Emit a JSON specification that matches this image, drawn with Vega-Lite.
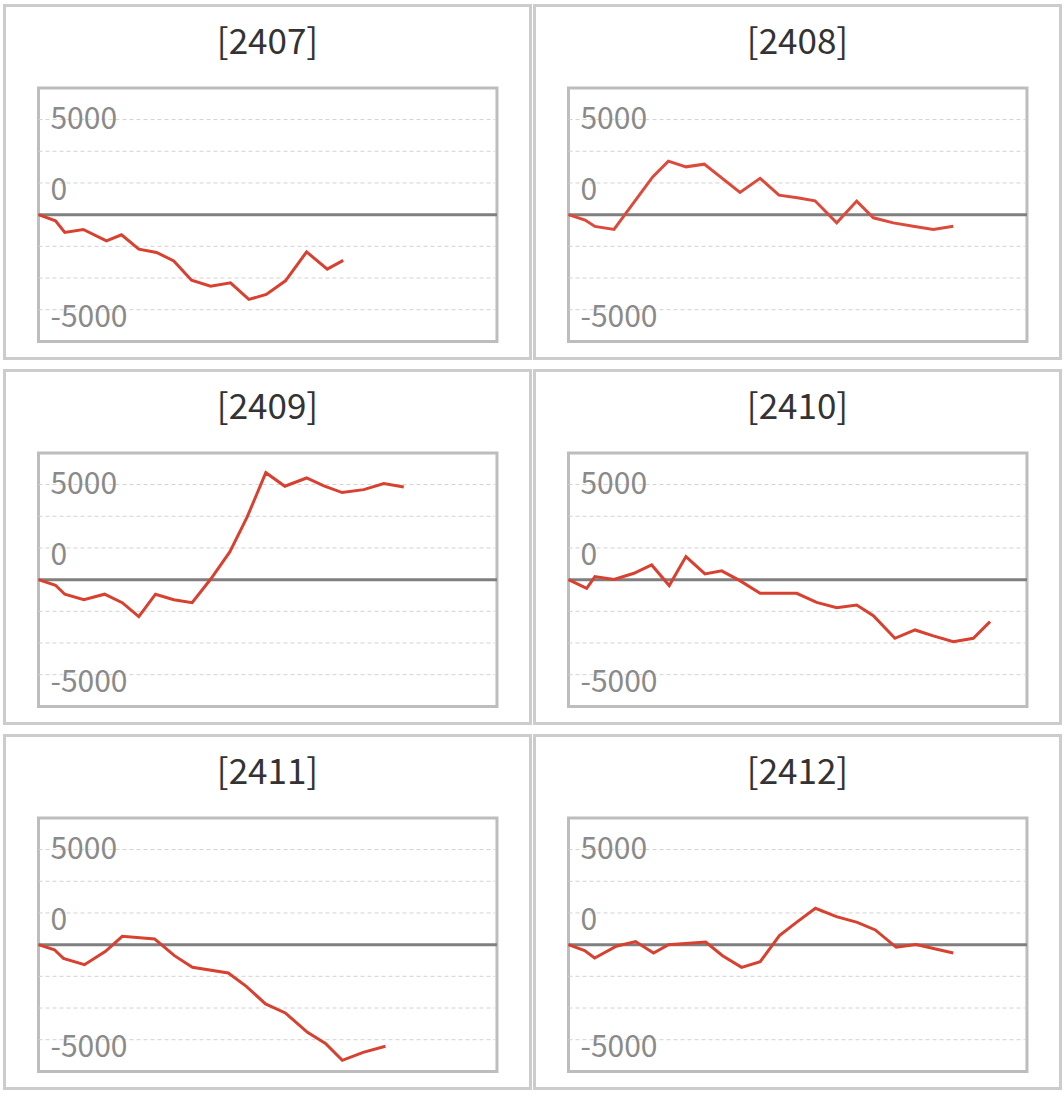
{
  "$schema": "https://vega.github.io/schema/vega-lite/v6.json",
  "padding": {"left": 2.5, "top": 3.5, "right": 2, "bottom": 2},
  "autosize": {"type": "pad"},
  "bounds": "flush",
  "columns": 2,
  "spacing": {"row": 12, "column": 4},
  "datasets": {
    "pnl": [
      {"p": "2407", "x": 0, "y": 0}, {"p": "2407", "x": 1.15, "y": -490}, {"p": "2407", "x": 1.78, "y": -1400}, {"p": "2407", "x": 3.03, "y": -1170},
      {"p": "2407", "x": 4.6, "y": -2070}, {"p": "2407", "x": 5.62, "y": -1590}, {"p": "2407", "x": 6.79, "y": -2720}, {"p": "2407", "x": 7.99, "y": -2980},
      {"p": "2407", "x": 9.16, "y": -3650}, {"p": "2407", "x": 10.36, "y": -5170}, {"p": "2407", "x": 11.65, "y": -5640}, {"p": "2407", "x": 13.0, "y": -5380},
      {"p": "2407", "x": 14.24, "y": -6690}, {"p": "2407", "x": 15.42, "y": -6300}, {"p": "2407", "x": 16.72, "y": -5220}, {"p": "2407", "x": 18.15, "y": -2940},
      {"p": "2407", "x": 19.55, "y": -4300}, {"p": "2407", "x": 20.63, "y": -3610},
      {"p": "2408", "x": 0, "y": 0}, {"p": "2408", "x": 1.12, "y": -430}, {"p": "2408", "x": 1.79, "y": -930}, {"p": "2408", "x": 3.08, "y": -1170},
      {"p": "2408", "x": 5.7, "y": 2980}, {"p": "2408", "x": 6.76, "y": 4220}, {"p": "2408", "x": 7.96, "y": 3770}, {"p": "2408", "x": 9.19, "y": 3980},
      {"p": "2408", "x": 11.61, "y": 1750}, {"p": "2408", "x": 12.97, "y": 2860}, {"p": "2408", "x": 14.25, "y": 1540}, {"p": "2408", "x": 15.49, "y": 1330},
      {"p": "2408", "x": 16.69, "y": 1090}, {"p": "2408", "x": 18.16, "y": -650}, {"p": "2408", "x": 19.51, "y": 1070}, {"p": "2408", "x": 20.64, "y": -250},
      {"p": "2408", "x": 21.99, "y": -650}, {"p": "2408", "x": 23.34, "y": -910}, {"p": "2408", "x": 24.7, "y": -1170}, {"p": "2408", "x": 26.05, "y": -910},
      {"p": "2409", "x": 0, "y": 0}, {"p": "2409", "x": 1.15, "y": -440}, {"p": "2409", "x": 1.78, "y": -1150}, {"p": "2409", "x": 3.07, "y": -1580},
      {"p": "2409", "x": 4.47, "y": -1150}, {"p": "2409", "x": 5.67, "y": -1820}, {"p": "2409", "x": 6.79, "y": -2920}, {"p": "2409", "x": 7.92, "y": -1150},
      {"p": "2409", "x": 9.16, "y": -1580}, {"p": "2409", "x": 10.4, "y": -1820}, {"p": "2409", "x": 11.65, "y": 30}, {"p": "2409", "x": 12.95, "y": 2190},
      {"p": "2409", "x": 14.13, "y": 4950}, {"p": "2409", "x": 15.39, "y": 8440}, {"p": "2409", "x": 16.68, "y": 7370}, {"p": "2409", "x": 18.15, "y": 8020},
      {"p": "2409", "x": 19.32, "y": 7390}, {"p": "2409", "x": 20.56, "y": 6870}, {"p": "2409", "x": 22.02, "y": 7100}, {"p": "2409", "x": 23.38, "y": 7580},
      {"p": "2409", "x": 24.73, "y": 7310},
      {"p": "2410", "x": 0, "y": 0}, {"p": "2410", "x": 1.23, "y": -690}, {"p": "2410", "x": 1.79, "y": 240}, {"p": "2410", "x": 3.08, "y": 20},
      {"p": "2410", "x": 4.43, "y": 500}, {"p": "2410", "x": 5.63, "y": 1160}, {"p": "2410", "x": 6.82, "y": -470}, {"p": "2410", "x": 7.95, "y": 1820},
      {"p": "2410", "x": 9.24, "y": 450}, {"p": "2410", "x": 10.37, "y": 690}, {"p": "2410", "x": 11.6, "y": -80}, {"p": "2410", "x": 12.97, "y": -1080},
      {"p": "2410", "x": 14.25, "y": -1080}, {"p": "2410", "x": 15.45, "y": -1080}, {"p": "2410", "x": 16.8, "y": -1790}, {"p": "2410", "x": 18.16, "y": -2210},
      {"p": "2410", "x": 19.51, "y": -2000}, {"p": "2410", "x": 20.64, "y": -2840}, {"p": "2410", "x": 22.1, "y": -4630}, {"p": "2410", "x": 23.46, "y": -3970},
      {"p": "2410", "x": 24.7, "y": -4440}, {"p": "2410", "x": 26.05, "y": -4890}, {"p": "2410", "x": 27.41, "y": -4630}, {"p": "2410", "x": 28.54, "y": -3310},
      {"p": "2411", "x": 0, "y": 0}, {"p": "2411", "x": 1.08, "y": -400}, {"p": "2411", "x": 1.69, "y": -1080}, {"p": "2411", "x": 3.11, "y": -1580},
      {"p": "2411", "x": 4.54, "y": -530}, {"p": "2411", "x": 5.67, "y": 660}, {"p": "2411", "x": 7.86, "y": 450}, {"p": "2411", "x": 9.2, "y": -870},
      {"p": "2411", "x": 10.42, "y": -1790}, {"p": "2411", "x": 12.85, "y": -2240}, {"p": "2411", "x": 14.07, "y": -3290}, {"p": "2411", "x": 15.37, "y": -4680},
      {"p": "2411", "x": 16.71, "y": -5390}, {"p": "2411", "x": 18.21, "y": -6920}, {"p": "2411", "x": 19.43, "y": -7790}, {"p": "2411", "x": 20.57, "y": -9130},
      {"p": "2411", "x": 21.98, "y": -8500}, {"p": "2411", "x": 23.49, "y": -8020},
      {"p": "2412", "x": 0, "y": 0}, {"p": "2412", "x": 1.09, "y": -470}, {"p": "2412", "x": 1.77, "y": -1050}, {"p": "2412", "x": 3.24, "y": -130},
      {"p": "2412", "x": 4.54, "y": 240}, {"p": "2412", "x": 5.76, "y": -660}, {"p": "2412", "x": 6.77, "y": 0}, {"p": "2412", "x": 9.29, "y": 210},
      {"p": "2412", "x": 10.43, "y": -870}, {"p": "2412", "x": 11.72, "y": -1790}, {"p": "2412", "x": 12.98, "y": -1340}, {"p": "2412", "x": 14.28, "y": 710},
      {"p": "2412", "x": 15.5, "y": 1820}, {"p": "2412", "x": 16.72, "y": 2870}, {"p": "2412", "x": 18.14, "y": 2210}, {"p": "2412", "x": 19.55, "y": 1760},
      {"p": "2412", "x": 20.77, "y": 1160}, {"p": "2412", "x": 22.19, "y": -210}, {"p": "2412", "x": 23.53, "y": 0}, {"p": "2412", "x": 26.05, "y": -660}
    ],
    "grid": [{"g": -7500}, {"g": -5000}, {"g": -2500}, {"g": 2500}, {"g": 5000}, {"g": 7500}],
    "labelsTop": [{"v": 7500, "t": "5000"}],
    "labelsLow": [{"v": 2500, "t": "0"}, {"v": -7500, "t": "-5000"}],
    "one": [{"k": 1}]
  },
  "concat": [
    {
      "title": "[2407]", "width": 526, "height": 353,
      "layer": [
        {"data": {"name": "one"}, "mark": {"type": "rect", "fillOpacity": 0, "stroke": "#bdbdbd", "strokeWidth": 3}, "encoding": {"x": {"datum": 0, "type": "quantitative", "axis": null, "scale": {"domain": [-2.302, 33.31], "nice": false, "zero": false}}, "x2": {"datum": 31.04}, "y": {"datum": -10000, "type": "quantitative", "axis": null, "scale": {"domain": [-11350, 16500], "nice": false, "zero": false}}, "y2": {"datum": 10000}}},
        {"data": {"name": "grid"}, "mark": {"type": "rule", "stroke": "#d2d2d2", "strokeWidth": 1, "strokeDash": [4, 3]}, "encoding": {"x": {"datum": 0, "type": "quantitative", "axis": null}, "x2": {"datum": 30.9}, "y": {"field": "g", "type": "quantitative", "axis": null}}},
        {"data": {"name": "one"}, "mark": {"type": "rule", "stroke": "#7f7f7f", "strokeWidth": 3}, "encoding": {"x": {"datum": 0, "type": "quantitative", "axis": null}, "x2": {"datum": 31.04}, "y": {"datum": 0, "type": "quantitative", "axis": null}}},
        {"data": {"name": "labelsTop"}, "mark": {"type": "text", "align": "left", "baseline": "middle", "dy": 0, "fontSize": 30, "color": "#8a8a8a"}, "encoding": {"x": {"datum": 0.81, "type": "quantitative", "axis": null}, "y": {"field": "v", "type": "quantitative", "axis": null}, "text": {"field": "t"}}},
        {"data": {"name": "labelsLow"}, "mark": {"type": "text", "align": "left", "baseline": "middle", "dy": 8, "fontSize": 30, "color": "#8a8a8a"}, "encoding": {"x": {"datum": 0.81, "type": "quantitative", "axis": null}, "y": {"field": "v", "type": "quantitative", "axis": null}, "text": {"field": "t"}}},
        {"data": {"name": "pnl"}, "transform": [{"filter": "datum.p == '2407'"}], "mark": {"type": "line", "color": "#d8402f", "strokeWidth": 3}, "encoding": {"x": {"field": "x", "type": "quantitative", "axis": null}, "y": {"field": "y", "type": "quantitative", "axis": null}}}
      ]
    },
    {
      "title": "[2408]", "width": 526, "height": 353,
      "layer": [
        {"data": {"name": "one"}, "mark": {"type": "rect", "fillOpacity": 0, "stroke": "#bdbdbd", "strokeWidth": 3}, "encoding": {"x": {"datum": 0, "type": "quantitative", "axis": null, "scale": {"domain": [-2.302, 33.31], "nice": false, "zero": false}}, "x2": {"datum": 31.04}, "y": {"datum": -10000, "type": "quantitative", "axis": null, "scale": {"domain": [-11350, 16500], "nice": false, "zero": false}}, "y2": {"datum": 10000}}},
        {"data": {"name": "grid"}, "mark": {"type": "rule", "stroke": "#d2d2d2", "strokeWidth": 1, "strokeDash": [4, 3]}, "encoding": {"x": {"datum": 0, "type": "quantitative", "axis": null}, "x2": {"datum": 30.9}, "y": {"field": "g", "type": "quantitative", "axis": null}}},
        {"data": {"name": "one"}, "mark": {"type": "rule", "stroke": "#7f7f7f", "strokeWidth": 3}, "encoding": {"x": {"datum": 0, "type": "quantitative", "axis": null}, "x2": {"datum": 31.04}, "y": {"datum": 0, "type": "quantitative", "axis": null}}},
        {"data": {"name": "labelsTop"}, "mark": {"type": "text", "align": "left", "baseline": "middle", "dy": 0, "fontSize": 30, "color": "#8a8a8a"}, "encoding": {"x": {"datum": 0.81, "type": "quantitative", "axis": null}, "y": {"field": "v", "type": "quantitative", "axis": null}, "text": {"field": "t"}}},
        {"data": {"name": "labelsLow"}, "mark": {"type": "text", "align": "left", "baseline": "middle", "dy": 8, "fontSize": 30, "color": "#8a8a8a"}, "encoding": {"x": {"datum": 0.81, "type": "quantitative", "axis": null}, "y": {"field": "v", "type": "quantitative", "axis": null}, "text": {"field": "t"}}},
        {"data": {"name": "pnl"}, "transform": [{"filter": "datum.p == '2408'"}], "mark": {"type": "line", "color": "#dc4a3c", "strokeWidth": 3}, "encoding": {"x": {"field": "x", "type": "quantitative", "axis": null}, "y": {"field": "y", "type": "quantitative", "axis": null}}}
      ]
    },
    {
      "title": "[2409]", "width": 526, "height": 353,
      "layer": [
        {"data": {"name": "one"}, "mark": {"type": "rect", "fillOpacity": 0, "stroke": "#bdbdbd", "strokeWidth": 3}, "encoding": {"x": {"datum": 0, "type": "quantitative", "axis": null, "scale": {"domain": [-2.302, 33.31], "nice": false, "zero": false}}, "x2": {"datum": 31.04}, "y": {"datum": -10000, "type": "quantitative", "axis": null, "scale": {"domain": [-11350, 16500], "nice": false, "zero": false}}, "y2": {"datum": 10000}}},
        {"data": {"name": "grid"}, "mark": {"type": "rule", "stroke": "#d2d2d2", "strokeWidth": 1, "strokeDash": [4, 3]}, "encoding": {"x": {"datum": 0, "type": "quantitative", "axis": null}, "x2": {"datum": 30.9}, "y": {"field": "g", "type": "quantitative", "axis": null}}},
        {"data": {"name": "one"}, "mark": {"type": "rule", "stroke": "#7f7f7f", "strokeWidth": 3}, "encoding": {"x": {"datum": 0, "type": "quantitative", "axis": null}, "x2": {"datum": 31.04}, "y": {"datum": 0, "type": "quantitative", "axis": null}}},
        {"data": {"name": "labelsTop"}, "mark": {"type": "text", "align": "left", "baseline": "middle", "dy": 0, "fontSize": 30, "color": "#8a8a8a"}, "encoding": {"x": {"datum": 0.81, "type": "quantitative", "axis": null}, "y": {"field": "v", "type": "quantitative", "axis": null}, "text": {"field": "t"}}},
        {"data": {"name": "labelsLow"}, "mark": {"type": "text", "align": "left", "baseline": "middle", "dy": 8, "fontSize": 30, "color": "#8a8a8a"}, "encoding": {"x": {"datum": 0.81, "type": "quantitative", "axis": null}, "y": {"field": "v", "type": "quantitative", "axis": null}, "text": {"field": "t"}}},
        {"data": {"name": "pnl"}, "transform": [{"filter": "datum.p == '2409'"}], "mark": {"type": "line", "color": "#d8402f", "strokeWidth": 3}, "encoding": {"x": {"field": "x", "type": "quantitative", "axis": null}, "y": {"field": "y", "type": "quantitative", "axis": null}}}
      ]
    },
    {
      "title": "[2410]", "width": 526, "height": 353,
      "layer": [
        {"data": {"name": "one"}, "mark": {"type": "rect", "fillOpacity": 0, "stroke": "#bdbdbd", "strokeWidth": 3}, "encoding": {"x": {"datum": 0, "type": "quantitative", "axis": null, "scale": {"domain": [-2.302, 33.31], "nice": false, "zero": false}}, "x2": {"datum": 31.04}, "y": {"datum": -10000, "type": "quantitative", "axis": null, "scale": {"domain": [-11350, 16500], "nice": false, "zero": false}}, "y2": {"datum": 10000}}},
        {"data": {"name": "grid"}, "mark": {"type": "rule", "stroke": "#d2d2d2", "strokeWidth": 1, "strokeDash": [4, 3]}, "encoding": {"x": {"datum": 0, "type": "quantitative", "axis": null}, "x2": {"datum": 30.9}, "y": {"field": "g", "type": "quantitative", "axis": null}}},
        {"data": {"name": "one"}, "mark": {"type": "rule", "stroke": "#7f7f7f", "strokeWidth": 3}, "encoding": {"x": {"datum": 0, "type": "quantitative", "axis": null}, "x2": {"datum": 31.04}, "y": {"datum": 0, "type": "quantitative", "axis": null}}},
        {"data": {"name": "labelsTop"}, "mark": {"type": "text", "align": "left", "baseline": "middle", "dy": 0, "fontSize": 30, "color": "#8a8a8a"}, "encoding": {"x": {"datum": 0.81, "type": "quantitative", "axis": null}, "y": {"field": "v", "type": "quantitative", "axis": null}, "text": {"field": "t"}}},
        {"data": {"name": "labelsLow"}, "mark": {"type": "text", "align": "left", "baseline": "middle", "dy": 8, "fontSize": 30, "color": "#8a8a8a"}, "encoding": {"x": {"datum": 0.81, "type": "quantitative", "axis": null}, "y": {"field": "v", "type": "quantitative", "axis": null}, "text": {"field": "t"}}},
        {"data": {"name": "pnl"}, "transform": [{"filter": "datum.p == '2410'"}], "mark": {"type": "line", "color": "#d8402f", "strokeWidth": 3}, "encoding": {"x": {"field": "x", "type": "quantitative", "axis": null}, "y": {"field": "y", "type": "quantitative", "axis": null}}}
      ]
    },
    {
      "title": "[2411]", "width": 526, "height": 353,
      "layer": [
        {"data": {"name": "one"}, "mark": {"type": "rect", "fillOpacity": 0, "stroke": "#bdbdbd", "strokeWidth": 3}, "encoding": {"x": {"datum": 0, "type": "quantitative", "axis": null, "scale": {"domain": [-2.302, 33.31], "nice": false, "zero": false}}, "x2": {"datum": 31.04}, "y": {"datum": -10000, "type": "quantitative", "axis": null, "scale": {"domain": [-11350, 16500], "nice": false, "zero": false}}, "y2": {"datum": 10000}}},
        {"data": {"name": "grid"}, "mark": {"type": "rule", "stroke": "#d2d2d2", "strokeWidth": 1, "strokeDash": [4, 3]}, "encoding": {"x": {"datum": 0, "type": "quantitative", "axis": null}, "x2": {"datum": 30.9}, "y": {"field": "g", "type": "quantitative", "axis": null}}},
        {"data": {"name": "one"}, "mark": {"type": "rule", "stroke": "#7f7f7f", "strokeWidth": 3}, "encoding": {"x": {"datum": 0, "type": "quantitative", "axis": null}, "x2": {"datum": 31.04}, "y": {"datum": 0, "type": "quantitative", "axis": null}}},
        {"data": {"name": "labelsTop"}, "mark": {"type": "text", "align": "left", "baseline": "middle", "dy": 0, "fontSize": 30, "color": "#8a8a8a"}, "encoding": {"x": {"datum": 0.81, "type": "quantitative", "axis": null}, "y": {"field": "v", "type": "quantitative", "axis": null}, "text": {"field": "t"}}},
        {"data": {"name": "labelsLow"}, "mark": {"type": "text", "align": "left", "baseline": "middle", "dy": 8, "fontSize": 30, "color": "#8a8a8a"}, "encoding": {"x": {"datum": 0.81, "type": "quantitative", "axis": null}, "y": {"field": "v", "type": "quantitative", "axis": null}, "text": {"field": "t"}}},
        {"data": {"name": "pnl"}, "transform": [{"filter": "datum.p == '2411'"}], "mark": {"type": "line", "color": "#d8402f", "strokeWidth": 3}, "encoding": {"x": {"field": "x", "type": "quantitative", "axis": null}, "y": {"field": "y", "type": "quantitative", "axis": null}}}
      ]
    },
    {
      "title": "[2412]", "width": 526, "height": 353,
      "layer": [
        {"data": {"name": "one"}, "mark": {"type": "rect", "fillOpacity": 0, "stroke": "#bdbdbd", "strokeWidth": 3}, "encoding": {"x": {"datum": 0, "type": "quantitative", "axis": null, "scale": {"domain": [-2.302, 33.31], "nice": false, "zero": false}}, "x2": {"datum": 31.04}, "y": {"datum": -10000, "type": "quantitative", "axis": null, "scale": {"domain": [-11350, 16500], "nice": false, "zero": false}}, "y2": {"datum": 10000}}},
        {"data": {"name": "grid"}, "mark": {"type": "rule", "stroke": "#d2d2d2", "strokeWidth": 1, "strokeDash": [4, 3]}, "encoding": {"x": {"datum": 0, "type": "quantitative", "axis": null}, "x2": {"datum": 30.9}, "y": {"field": "g", "type": "quantitative", "axis": null}}},
        {"data": {"name": "one"}, "mark": {"type": "rule", "stroke": "#7f7f7f", "strokeWidth": 3}, "encoding": {"x": {"datum": 0, "type": "quantitative", "axis": null}, "x2": {"datum": 31.04}, "y": {"datum": 0, "type": "quantitative", "axis": null}}},
        {"data": {"name": "labelsTop"}, "mark": {"type": "text", "align": "left", "baseline": "middle", "dy": 0, "fontSize": 30, "color": "#8a8a8a"}, "encoding": {"x": {"datum": 0.81, "type": "quantitative", "axis": null}, "y": {"field": "v", "type": "quantitative", "axis": null}, "text": {"field": "t"}}},
        {"data": {"name": "labelsLow"}, "mark": {"type": "text", "align": "left", "baseline": "middle", "dy": 8, "fontSize": 30, "color": "#8a8a8a"}, "encoding": {"x": {"datum": 0.81, "type": "quantitative", "axis": null}, "y": {"field": "v", "type": "quantitative", "axis": null}, "text": {"field": "t"}}},
        {"data": {"name": "pnl"}, "transform": [{"filter": "datum.p == '2412'"}], "mark": {"type": "line", "color": "#d8402f", "strokeWidth": 3}, "encoding": {"x": {"field": "x", "type": "quantitative", "axis": null}, "y": {"field": "y", "type": "quantitative", "axis": null}}}
      ]
    }
  ],
  "config": {
    "font": "Noto Sans CJK JP",
    "view": {"stroke": "#cccccc", "strokeWidth": 3},
    "title": {"offset": -55, "fontSize": 35, "fontWeight": "normal", "color": "#333333", "anchor": "middle", "font": "Noto Sans CJK JP"},
    "text": {"font": "Noto Sans CJK JP"}
  }
}
